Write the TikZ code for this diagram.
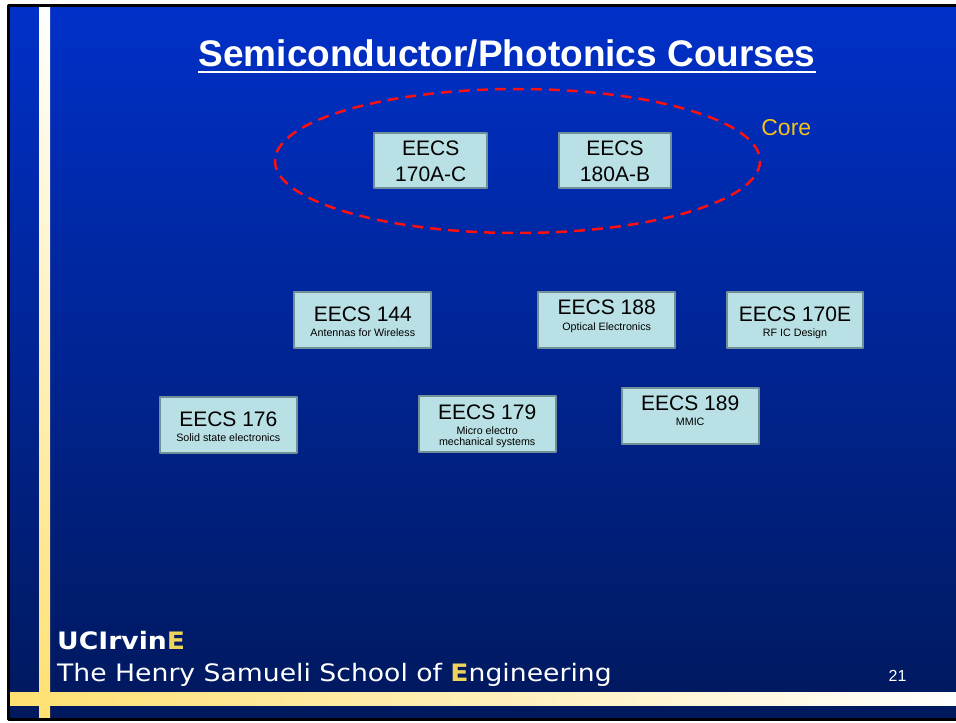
\documentclass[tikz,border=0pt]{standalone}
\usepackage{fontspec}
\setmainfont{Liberation Sans}
\newfontfamily\verdana[FakeStretch=1.11]{DejaVu Sans}
\definecolor{fondoalto}{HTML}{0030C8}
\definecolor{fondomedio}{HTML}{0028AA}
\definecolor{fondobajo}{HTML}{00185C}
\definecolor{celeste}{HTML}{B9E0E4}
\definecolor{borde}{HTML}{708F96}
\definecolor{rojo}{HTML}{FF1010}
\definecolor{oro}{HTML}{F2C21A}
\definecolor{amarillo}{HTML}{FFE070}
\definecolor{letraE}{HTML}{EED45A}
\newcommand{\subtexto}[1]{{\fontsize{10.7}{11}\selectfont #1}}

\begin{document}
\begin{tikzpicture}[x=1pt, y=-1pt, line join=round,
  curso/.style={draw=borde, fill=celeste, line width=2pt, minimum width=136.7pt, minimum height=56pt, inner sep=0pt},
  nucleo/.style={curso, minimum width=112.7pt, minimum height=55.6pt},
  textos/.style={align=center, inner sep=0pt, anchor=base, text=black, font=\fontsize{21}{15.3}\selectfont},
  textonucleo/.style={textos, font=\fontsize{21}{26}\selectfont},
  pie/.style={inner sep=0pt, anchor=base west, text=white}]
  \fill[white] (0,0) rectangle (956,723);
  \useasboundingbox (0,0) rectangle (956,723);

  % Fondo y barras
  \shade[top color=fondoalto, middle color=fondomedio, bottom color=fondobajo] (8.5,5.5) rectangle (956,719.5);
  \shade[top color=white, bottom color=amarillo] (39,5.5) rectangle (50,719.5);
  \shade[left color=amarillo, right color=white] (8.5,692) rectangle (956,705);
  \draw[black, line width=3pt] (958,5.5) -- (8.5,5.5) -- (8.5,719.5) -- (958,719.5);

  % Titulo
  \node[inner sep=0pt, anchor=base, text=white, font=\bfseries\fontsize{37}{37}\selectfont] (titulo) at (507,66) {Semiconductor/Photonics Courses};
  \draw[white, line width=2pt] ([yshift=-5.7pt]titulo.base west) -- ([yshift=-5.7pt]titulo.base east);

  % Cursos troncales
  \draw[rojo, dashed, dash pattern=on 11pt off 7pt, line width=2.5pt] (517.5,161) ellipse [x radius=242.5, y radius=72];
  \node[oro, inner sep=0pt, font=\fontsize{23}{23}\selectfont] (core) at (786.3,127.7) {Core};
  \node[nucleo] (b170) at (430.8,160.5) {};
  \node[textonucleo] (t170) at (430.8,181) {EECS\\170A-C};
  \node[nucleo] (b180) at (615,160.5) {};
  \node[textonucleo] (t180) at (615,181) {EECS\\180A-B};

  % Cursos optativos
  \node[curso] (b144) at (362.8,320.3) {};
  \node[textos] (t144) at (362.8,336.7) {EECS 144\\\subtexto{Antennas for Wireless}};
  \node[curso] (b188) at (606.7,320) {};
  \node[textos] (t188) at (606.7,330) {EECS 188\\\subtexto{Optical Electronics}};
  \node[curso] (b170E) at (795,320.3) {};
  \node[textos] (t170E) at (795,336.7) {EECS 170E\\\subtexto{RF IC Design}};
  \node[curso] (b176) at (228.3,425) {};
  \node[textos] (t176) at (228.3,441.7) {EECS 176\\\subtexto{Solid state electronics}};
  \node[curso] (b179) at (487.2,424.2) {};
  \node[textos] (t179) at (487.2,445.7) {EECS 179\\\subtexto{Micro electro}\\[-4.3pt]\subtexto{mechanical systems}};
  \node[curso] (b189) at (690.2,416.2) {};
  \node[textos] (t189) at (690.2,425.7) {EECS 189\\\subtexto{MMIC}};

  % Pie
  \node[pie, font=\verdana\bfseries\fontsize{24}{24}\selectfont] (ucirvine) at (57,649) {UCIrvin\textcolor{letraE}{E}};
  \node[pie, font=\verdana\fontsize{24}{24}\selectfont] (escuela) at (57,681.7) {The Henry Samueli School of \textcolor{letraE}{\bfseries E}ngineering};
  \node[text=white, inner sep=0pt, font=\fontsize{16}{16}\selectfont] (pagina) at (897.5,676) {21};
\end{tikzpicture}
\end{document}
